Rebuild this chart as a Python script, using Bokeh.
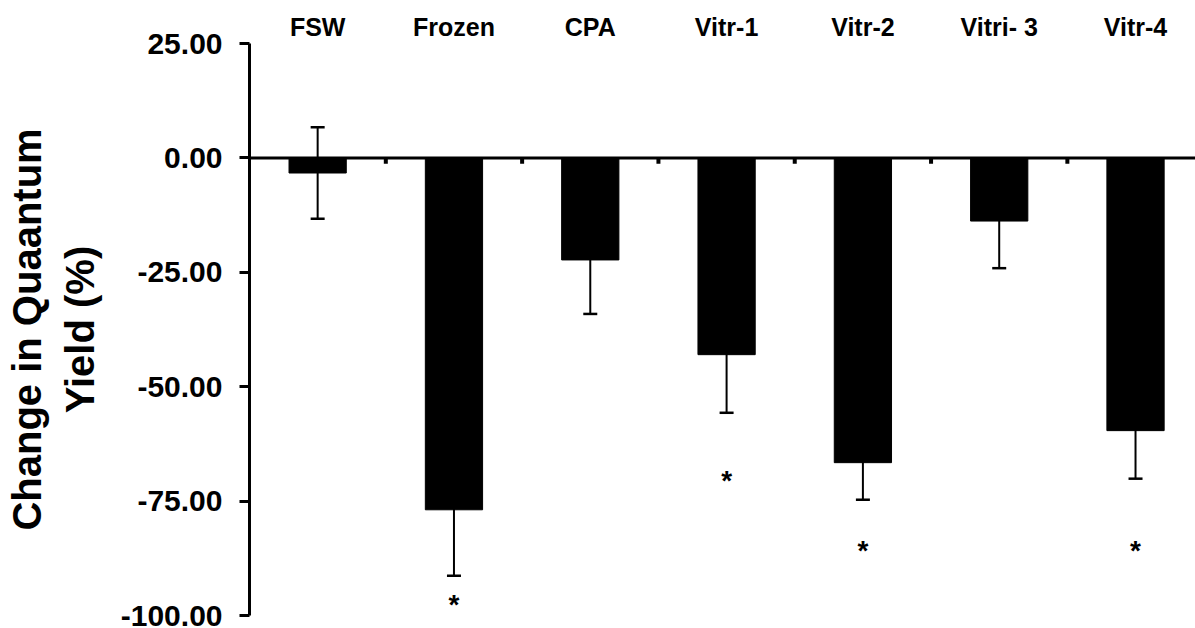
from bokeh.plotting import figure
from bokeh.models import (Range1d, LinearAxis, FixedTicker, NumeralTickFormatter,
                          ColumnDataSource, Whisker, TeeHead, Span)
from bokeh.core.properties import value
from bokeh.embed import file_html
from bokeh.resources import INLINE

categories = ["FSW", "Frozen", "CPA", "Vitr-1", "Vitr-2", "Vitri- 3", "Vitr-4"]
means = [-3.3, -76.9, -22.3, -43.0, -66.6, -13.8, -59.6]
errors = [10.0, 14.4, 11.8, 12.7, 8.1, 10.3, 10.5]
star_labels = ["", "*", "", "*", "*", "", "*"]
star_y = [0, -96.7, 0, -69.7, -85.0, 0, -85.0]
y_ticks = [-100, -75, -50, -25, 0, 25]

FONT = "Liberation Sans"

xs = [i + 0.5 for i in range(len(categories))]
bounds = [i + 1 for i in range(len(categories) - 1)]

src = ColumnDataSource(dict(
    x=xs, top=[0] * len(means), bottom=means,
    upper=[m + e for m, e in zip(means, errors)],
    lower=[m - e for m, e in zip(means, errors)],
))
star_src = ColumnDataSource(dict(
    x=[x for x, s in zip(xs, star_labels) if s],
    y=[y for y, s in zip(star_y, star_labels) if s],
    t=[s for s in star_labels if s],
))

p = figure(frame_width=946, frame_height=572,
           x_range=Range1d(0, 6.94), y_range=Range1d(-100, 25),
           output_backend="svg", toolbar_location=None,
           x_axis_location=None, y_axis_location=None,
           min_border_left=249, min_border_right=0,
           min_border_top=43, min_border_bottom=13)
p.outline_line_color = None
p.grid.visible = False
p.background_fill_color = "white"
p.border_fill_color = "white"

# bars
p.vbar(x="x", top="top", bottom="bottom", width=0.42, source=src,
       fill_color="black", line_color="black")

# error bars
w = Whisker(base="x", upper="upper", lower="lower", source=src,
            line_color="black", line_width=2,
            upper_head=TeeHead(size=14, line_width=2.5, line_color="black"),
            lower_head=TeeHead(size=14, line_width=2.5, line_color="black"))
p.add_layout(w)

# zero line and small boundary ticks
p.add_layout(Span(location=0, dimension="width", line_color="black", line_width=3))
p.segment(x0=bounds, y0=[0] * len(bounds), x1=bounds, y1=[-1.3] * len(bounds),
          line_color="black", line_width=4)

# asterisks
p.text(x="x", y="y", text="t", source=star_src, text_align="center",
       text_baseline="middle", text_font=value(FONT), text_font_style="bold",
       text_font_size="28px", text_color="black", y_offset=4)

# y axis
yax = LinearAxis(ticker=FixedTicker(ticks=y_ticks),
                 formatter=NumeralTickFormatter(format="0.00"),
                 axis_label="Change in Quaantum\nYield (%)")
yax.axis_line_width = 3
yax.major_tick_line_width = 3
yax.major_tick_out = 10
yax.major_tick_in = 0
yax.minor_tick_out = 0
yax.minor_tick_in = 0
yax.major_label_standoff = 17
yax.major_label_text_font = FONT
yax.major_label_text_font_style = "bold"
yax.major_label_text_font_size = "30px"
yax.major_label_text_color = "black"
yax.axis_label_text_font = FONT
yax.axis_label_text_font_style = "bold"
yax.axis_label_text_font_size = "40px"
yax.axis_label_text_color = "black"
yax.axis_label_standoff = 16
p.add_layout(yax, "left")

# category labels on top
tax = LinearAxis(ticker=FixedTicker(ticks=xs),
                 major_label_overrides={x: c for x, c in zip(xs, categories)})
tax.axis_line_color = None
tax.major_tick_line_color = None
tax.minor_tick_line_color = None
tax.major_tick_out = 0
tax.major_tick_in = 0
tax.major_label_standoff = 3
tax.major_label_text_font = FONT
tax.major_label_text_font_style = "bold"
tax.major_label_text_font_size = "25px"
tax.major_label_text_color = "black"
p.add_layout(tax, "above")

open("out.html", "w").write(file_html(p, INLINE))
